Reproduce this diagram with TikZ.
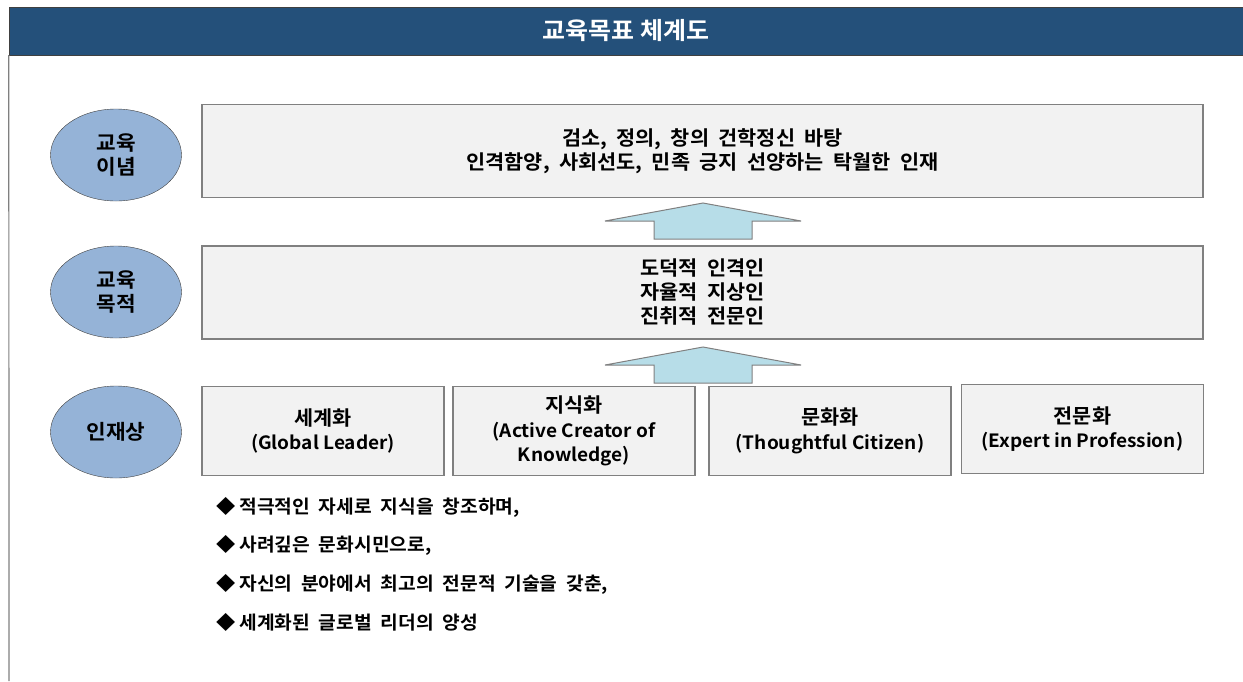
\documentclass[tikz,border=0pt]{standalone}
\usepackage{fontspec}
\usetikzlibrary{shapes.geometric}
\newfontfamily\kr{Noto Sans CJK KR Bold}[FakeStretch=1.04, WordSpace=2]
\newfontfamily\krlat{Noto Sans CJK KR Bold}[FakeStretch=1.041]
\newcommand\krl[1]{{\kr\fontsize{20}{25}\selectfont #1}}
\newcommand\diamondpt[1]{◆\kern4pt #1}
\definecolor{headblue}{HTML}{24507A}
\definecolor{ovalblue}{HTML}{95B3D7}
\definecolor{boxgray}{HTML}{F2F2F2}
\definecolor{linegray}{HTML}{808080}
\definecolor{arrowblue}{HTML}{B7DDE8}
\tikzset{
  titlebar/.style={rectangle, fill=headblue, draw=darkgray, minimum width=1234pt,
    minimum height=48pt, inner sep=0pt, text=white, font=\krlat\fontsize{24}{26}\selectfont},
  oval/.style={ellipse, draw=darkgray, fill=ovalblue, minimum width=131pt,
    minimum height=92pt, inner sep=0pt, align=center, font=\kr\fontsize{20.5}{24}\selectfont},
  goalbox/.style={rectangle, draw=linegray, fill=boxgray, line width=1.2pt,
    inner sep=0pt, align=center, font=\kr\fontsize{20}{24}\selectfont},
  talentbox/.style={goalbox, minimum width=242pt, minimum height=89pt,
    font=\krlat\fontsize{18.3}{24.5}\selectfont},
  bullet/.style={anchor=west, inner sep=0pt, font=\kr\fontsize{18.5}{20}\selectfont},
  blockarrow/.style={fill=arrowblue, draw=linegray, line width=1pt}
}
\newcommand\uparrowat[1]{\draw[blockarrow, shift={(#1)}] (-49,36) -- (-49,18)
  -- (-98,18) -- (0,0) -- (98,18) -- (49,18) -- (49,36) -- cycle;}
\begin{document}
\begin{tikzpicture}[x=1pt,y=-1pt]
  \useasboundingbox (0,0) rectangle (1243,681);
  \node[titlebar] (title) at (626,31) {교육목표 체계도};
  \coordinate (frameend) at (9,681);
  \draw[linegray, line width=1.2pt] (title.south west) -- (frameend);

  \node[oval] (idea) at (116,155) {교육\\이념};
  \node[oval] (aim) at (116,292) {교육\\목적};
  \node[oval] (talent) at (116,432) {인재상};

  \node[goalbox, minimum width=1001pt, minimum height=93pt] (ideabox) at (702.5,151)
    {검소, 정의, 창의 건학정신 바탕\\인격함양, 사회선도, 민족 긍지 선양하는 탁월한 인재};
  \node[goalbox, minimum width=1001pt, minimum height=93pt] (aimbox) at (702.5,292.5)
    {도덕적 인격인\\자율적 지상인\\진취적 전문인};

  \coordinate (tip1) at (703,203);
  \coordinate (tip2) at (703,347);
  \uparrowat{tip1}
  \uparrowat{tip2}

  \node[talentbox] (global) at (323,431) {\krl{세계화}\\(Global Leader)};
  \node[talentbox] (knowledge) at (574,431) {\krl{지식화}\\(Active Creator of\\Knowledge)};
  \node[talentbox] (culture) at (830,431) {\krl{문화화}\\(Thoughtful Citizen)};
  \node[talentbox] (expert) at (1082.5,429) {\krl{전문화}\\(Expert in Profession)};

  \node[bullet] (b1) at (216,507) {\diamondpt{적극적인 자세로 지식을 창조하며,}};
  \node[bullet] (b2) at (216,545.5) {\diamondpt{사려깊은 문화시민으로,}};
  \node[bullet] (b3) at (216,584) {\diamondpt{자신의 분야에서 최고의 전문적 기술을 갖춘,}};
  \node[bullet] (b4) at (216,622) {\diamondpt{세계화된 글로벌 리더의 양성}};
\end{tikzpicture}
\end{document}
